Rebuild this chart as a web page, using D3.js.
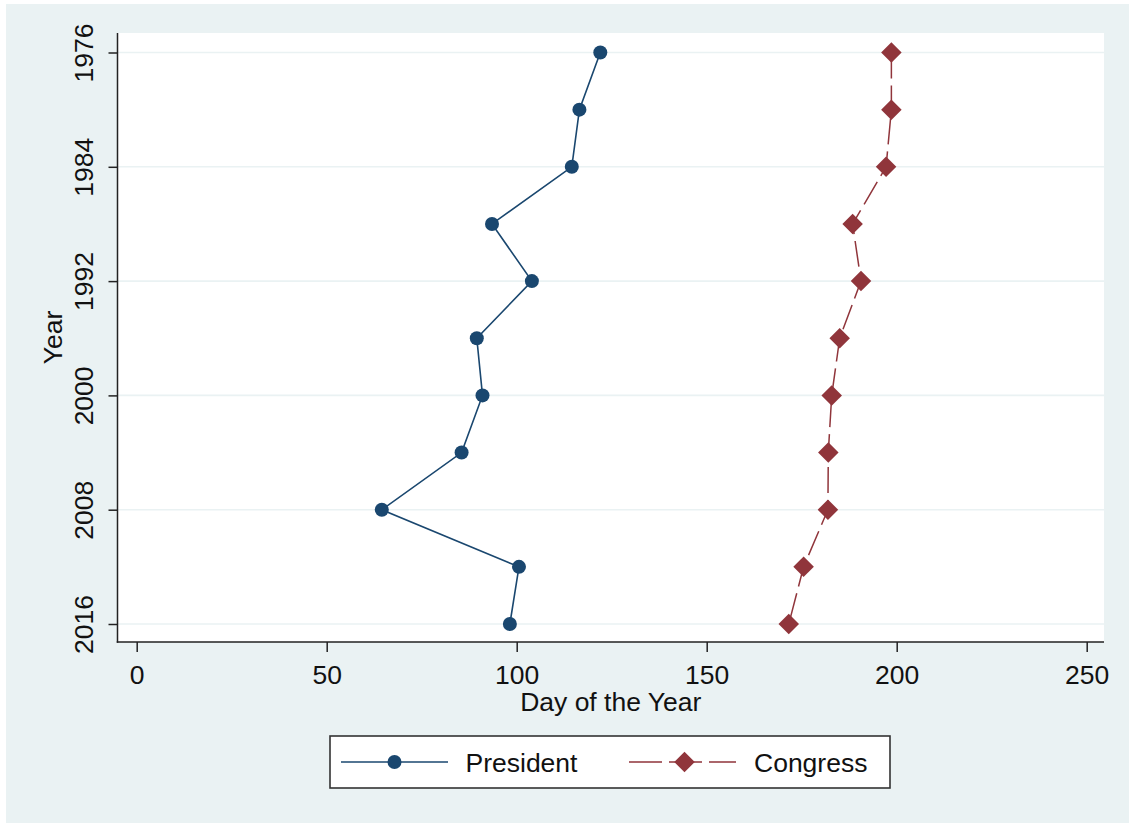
<!DOCTYPE html>
<html>
<head>
<meta charset="utf-8">
<script src="https://cdn.jsdelivr.net/npm/d3@7"></script>
<style>
  html, body { margin: 0; padding: 0; background: #ffffff; }
  svg { display: block; }
  text { font-family: "Liberation Sans", Arial, sans-serif; fill: #111; }
</style>
</head>
<body>
<svg id="chart" width="1129" height="823"></svg>
<script>
const years = [1976, 1980, 1984, 1988, 1992, 1996, 2000, 2004, 2008, 2012, 2016];
const president = [122, 116.5, 114.5, 93.5, 104, 89.5, 91, 85.5, 64.5, 100.6, 98.2];
const congress = [198.6, 198.6, 197.2, 188.4, 190.6, 185, 182.9, 182, 181.9, 175.5, 171.6];
const yTicks = [1976, 1984, 1992, 2000, 2008, 2016];
const xTicks = [0, 50, 100, 150, 200, 250];
const seriesNames = ["President", "Congress"];

const svg = d3.select("#chart");
const W = 1129, H = 823;
const plot = { left: 117.5, top: 33, right: 1104, bottom: 642 };
const navy = "#1a476f", maroon = "#90353b", bg = "#eaf2f3";
const FS = "26.5px";

// graph region background
svg.append("rect").attr("x", 6).attr("y", 4).attr("width", W - 6).attr("height", H - 4).attr("fill", bg);
// plot region
svg.append("rect").attr("x", plot.left).attr("y", plot.top)
  .attr("width", plot.right - plot.left).attr("height", plot.bottom - plot.top).attr("fill", "#fff");

const x = d3.scaleLinear().domain([0, 250]).range([136.7, 1086.7]);
const y = d3.scaleLinear().domain([1976, 2016]).range([52.5, 624]);

// gridlines
svg.append("g").selectAll("line").data(yTicks).join("line")
  .attr("x1", plot.left).attr("x2", plot.right)
  .attr("y1", d => y(d)).attr("y2", d => y(d))
  .attr("stroke", bg).attr("stroke-width", 1.6);

// y axis
const yAxis = svg.append("g").attr("transform", `translate(${plot.left},0)`)
  .call(d3.axisLeft(y).tickValues(yTicks).tickSize(9).tickFormat(d3.format("d")).tickSizeOuter(0));
yAxis.select(".domain").remove();
yAxis.selectAll(".tick line").attr("stroke", "#222").attr("stroke-width", 1.5);
yAxis.selectAll(".tick text")
  .attr("x", null).attr("dy", null)
  .attr("transform", "translate(-24.5,0) rotate(-90)")
  .attr("text-anchor", "middle")
  .style("font-size", FS).style("font-family", "Liberation Sans, Arial, sans-serif").attr("fill", "#111");
svg.append("line").attr("x1", plot.left).attr("x2", plot.left)
  .attr("y1", plot.top).attr("y2", plot.bottom + 0.75).attr("stroke", "#222").attr("stroke-width", 1.5);

// x axis
const xAxis = svg.append("g").attr("transform", `translate(0,${plot.bottom})`)
  .call(d3.axisBottom(x).tickValues(xTicks).tickSize(10).tickSizeOuter(0));
xAxis.select(".domain").remove();
xAxis.selectAll(".tick line").attr("stroke", "#222").attr("stroke-width", 1.5);
xAxis.selectAll(".tick text")
  .attr("y", 42).attr("dy", null)
  .style("font-size", FS).style("font-family", "Liberation Sans, Arial, sans-serif").attr("fill", "#111");
svg.append("line").attr("x1", plot.left - 0.75).attr("x2", plot.right)
  .attr("y1", plot.bottom).attr("y2", plot.bottom).attr("stroke", "#222").attr("stroke-width", 1.5);

// axis titles
svg.append("text").attr("x", (plot.left + plot.right) / 2).attr("y", 711)
  .attr("text-anchor", "middle").style("font-size", FS).text("Day of the Year");
svg.append("text").attr("transform", `translate(62,${(plot.top + plot.bottom) / 2}) rotate(-90)`)
  .attr("text-anchor", "middle").style("font-size", FS).text("Year");

// lines
const presData = years.map((yr, i) => ({ yr, v: president[i] }));
const congData = years.map((yr, i) => ({ yr, v: congress[i] }));
const line = d3.line().x(d => x(d.v)).y(d => y(d.yr));

svg.append("path").datum(presData).attr("d", line)
  .attr("fill", "none").attr("stroke", navy).attr("stroke-width", 1.6);
svg.append("path").datum(congData).attr("d", line)
  .attr("fill", "none").attr("stroke", maroon).attr("stroke-width", 1.5)
  .attr("stroke-dasharray", "26,7");

// markers
const circleSym = d3.symbol().type(d3.symbolCircle).size(Math.PI * 7 * 7);
const diamondSym = d3.symbol().type(d3.symbolSquare).size(14.5 * 14.5);
svg.append("g").selectAll("path").data(presData).join("path")
  .attr("d", circleSym)
  .attr("transform", d => `translate(${x(d.v)},${y(d.yr)})`)
  .attr("fill", navy);
svg.append("g").selectAll("path").data(congData).join("path")
  .attr("d", diamondSym)
  .attr("transform", d => `translate(${x(d.v)},${y(d.yr)}) rotate(45)`)
  .attr("fill", maroon);

// legend
const lg = svg.append("g");
lg.append("rect").attr("x", 330).attr("y", 736).attr("width", 560).attr("height", 52)
  .attr("fill", "#fff").attr("stroke", "#333").attr("stroke-width", 1.6);
const ly = 762;
lg.append("line").attr("x1", 341).attr("x2", 448).attr("y1", ly).attr("y2", ly)
  .attr("stroke", navy).attr("stroke-width", 1.6);
lg.append("path").attr("d", circleSym).attr("transform", `translate(394.5,${ly})`).attr("fill", navy);
lg.append("text").attr("x", 465.5).attr("y", 771.5).style("font-size", FS).text(seriesNames[0]);
lg.append("line").attr("x1", 629).attr("x2", 736).attr("y1", ly).attr("y2", ly)
  .attr("stroke", maroon).attr("stroke-width", 1.5).attr("stroke-dasharray", "33,7");
lg.append("path").attr("d", diamondSym).attr("transform", `translate(684.5,${ly}) rotate(45)`).attr("fill", maroon);
lg.append("text").attr("x", 754).attr("y", 771.5).style("font-size", FS).text(seriesNames[1]);
</script>
</body>
</html>
